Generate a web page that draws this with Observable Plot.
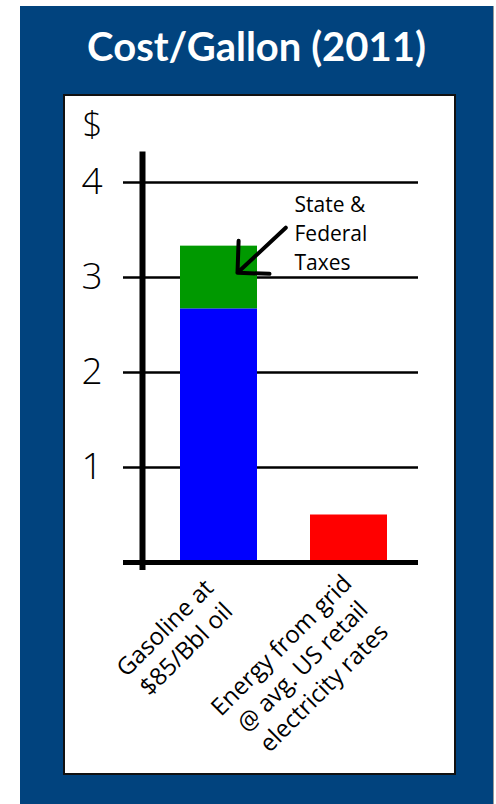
<!DOCTYPE html>
<html>
<head>
<meta charset="utf-8">
<script src="https://cdn.jsdelivr.net/npm/d3@7"></script>
<script src="https://cdn.jsdelivr.net/npm/@observablehq/plot@0.6"></script>
<style>
  html, body { margin: 0; padding: 0; background: #ffffff; width: 496px; height: 804px; overflow: hidden; }
  #outer { position: absolute; left: 20px; top: 6px; width: 473px; height: 798px; background: #01437e; border-right: 1px solid #9a9a9a; }
  #title { position: absolute; left: 20px; width: 473px; top: 21px; text-align: center; color: #ffffff;
           font-family: "Lato", "DejaVu Sans", sans-serif; font-weight: 700; font-size: 40px; line-height: 50px; }
  #panel { position: absolute; left: 63px; top: 94px; width: 389px; height: 677px; background: #ffffff; border: 2px solid #111; }
  #chart { position: absolute; left: 0; top: 0; }
</style>
</head>
<body>
<div id="outer"></div>
<div id="title">Cost/Gallon (2011)</div>
<div id="panel"></div>
<div id="chart"></div>
<script>
// ---- data ----
const categories = ["Gasoline at\n$85/Bbl oil", "Energy from grid\n@ avg. US retail\nelectricity rates"];
const gasolineBase = 2.67;     // gasoline cost excluding taxes ($/gal)
const gasolineTaxes = 0.66;    // state & federal taxes ($/gal)
const gridEnergy = 0.5;        // electricity equivalent ($/gal)
const yTicks = [1, 2, 3, 4];
const annotation = "State &\nFederal\nTaxes";

const rows = [
  {cat: categories[0], part: "base", value: gasolineBase, color: "#0000ff"},
  {cat: categories[0], part: "taxes", value: gasolineTaxes, color: "#009900"},
  {cat: categories[1], part: "grid", value: gridEnergy, color: "#ff0000"}
];

const font = "'Open Sans', 'DejaVu Sans', sans-serif";

const chart = Plot.plot({
  width: 496,
  height: 804,
  marginLeft: 123,
  marginRight: 78,
  marginTop: 182,
  marginBottom: 242,
  style: {background: "transparent", fontFamily: font, color: "#000", overflow: "visible"},
  x: {domain: categories, insetLeft: 30.5, insetRight: 4.5, paddingInner: 0.408, paddingOuter: 0.204, axis: null},
  y: {domain: [0, 4], axis: null},
  marks: [
    Plot.ruleY(yTicks, {stroke: "#000", strokeWidth: 2.5}),
    Plot.barY(rows, {x: "cat", y: "value", fill: "color", order: null}),
    Plot.ruleY([0], {stroke: "#000", strokeWidth: 5}),
    Plot.ruleX([0], {x: null, y1: -0.085, y2: 4.32, stroke: "#000", strokeWidth: 6, dx: -128.5}),
    Plot.text(yTicks, {y: d => d, text: d => String(d), frameAnchor: "left", textAnchor: "end", dx: -21, fontSize: 37, fontWeight: 300, fill: "#000"}),
    Plot.text(["$"], {y: 4.6, text: d => d, frameAnchor: "left", textAnchor: "end", dx: -21, fontSize: 35, fontWeight: 300, fill: "#000"}),
    Plot.text([annotation], {x: () => categories[0], y: 3.9, text: d => d, textAnchor: "start", lineAnchor: "top", lineHeight: 1.37, dx: 75.5, fontSize: 21, fill: "#000"}),
    Plot.vector([categories[0]], {x: d => d, y: 3.05, dx: 18.5, anchor: "end", length: 66, rotate: 227, r: 6, shape: "arrow", stroke: "#000", strokeWidth: 4}),
    Plot.text([categories[0]], {x: d => d, text: d => d, frameAnchor: "bottom", rotate: -45, textAnchor: "middle", lineAnchor: "middle", lineHeight: 1.25, dx: -44.5, dy: 75, fontSize: 24, fill: "#000"}),
    Plot.text([categories[1]], {x: d => d, text: d => d, frameAnchor: "bottom", rotate: -45, textAnchor: "middle", lineAnchor: "middle", lineHeight: 1.25, dx: -47.5, dy: 103, fontSize: 24, fill: "#000"})
  ]
});
document.getElementById("chart").appendChild(chart);
</script>
</body>
</html>
